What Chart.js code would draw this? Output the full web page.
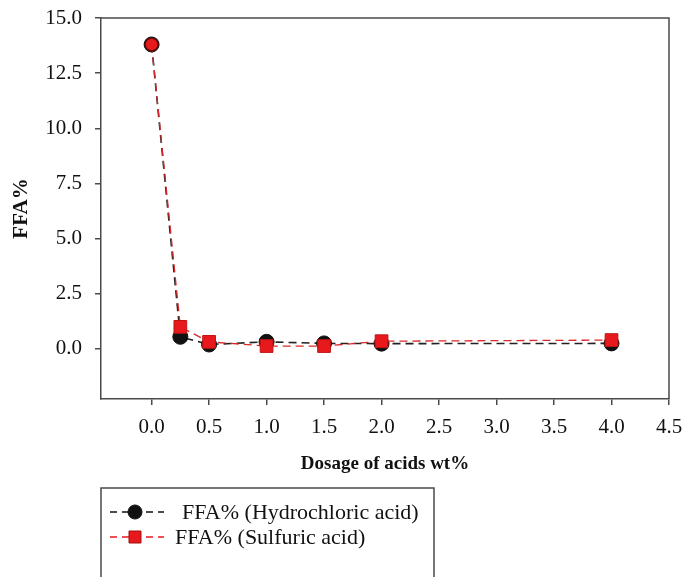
<!DOCTYPE html>
<html><head><meta charset="utf-8">
<script src="https://cdn.jsdelivr.net/npm/chart.js@4.4.0/dist/chart.umd.min.js"></script>
<style>html,body{margin:0;padding:0;background:#fff;} #wrap{width:685px;height:577px;position:relative;}</style>
</head><body><div id="wrap"><canvas id="c" width="685" height="577"></canvas></div>
<script>
const dosage = [0, 0.25, 0.5, 1.0, 1.5, 2.0, 4.0];
const hclFFA = [13.8, 0.55, 0.2, 0.32, 0.25, 0.24, 0.25];
const sulfuricFFA = [13.8, 1.0, 0.32, 0.13, 0.13, 0.35, 0.4];
const xTickValues = [0, 0.5, 1.0, 1.5, 2.0, 2.5, 3.0, 3.5, 4.0, 4.5];
const yTickValues = [0, 2.5, 5.0, 7.5, 10.0, 12.5, 15.0];
const seriesNames = ['FFA% (Hydrochloric acid)', 'FFA% (Sulfuric acid)'];
const xTitle = 'Dosage of acids wt%';
const yTitle = 'FFA%';

const SERIF = "'Liberation Serif', 'Times New Roman', serif";
const AXIS = '#4a4a4a';
const BLACK = '#111';
const RED = '#e8191c';
const RED_DARK = '#a01010';

const framePlugin = {
  id: 'frame',
  afterDraw(chart) {
    const {ctx, chartArea: a} = chart;
    ctx.save();
    ctx.strokeStyle = AXIS;
    ctx.lineWidth = 1.5;
    ctx.beginPath();
    ctx.moveTo(a.left, a.top);
    ctx.lineTo(a.right, a.top);
    ctx.lineTo(a.right, a.bottom);
    ctx.stroke();
    ctx.restore();
  }
};

const legendPlugin = {
  id: 'customLegend',
  afterDraw(chart) {
    const ctx = chart.ctx;
    ctx.save();
    ctx.strokeStyle = AXIS;
    ctx.lineWidth = 1.5;
    ctx.strokeRect(101, 488, 333, 140);
    const rows = [
      {y: 512, color: BLACK, fill: BLACK, border: BLACK, style: 'circle', r: 7, tx: 182},
      {y: 537, color: RED, fill: RED, border: RED_DARK, style: 'rect', r: 6, tx: 175}
    ];
    rows.forEach((row, i) => {
      ctx.setLineDash([7, 5]);
      ctx.strokeStyle = row.color;
      ctx.lineWidth = 1.5;
      ctx.beginPath();
      ctx.moveTo(110, row.y);
      ctx.lineTo(164, row.y);
      ctx.stroke();
      ctx.setLineDash([]);
      ctx.fillStyle = row.fill;
      ctx.strokeStyle = row.border;
      ctx.lineWidth = 1;
      ctx.beginPath();
      if (row.style === 'circle') { ctx.arc(135, row.y, row.r, 0, Math.PI * 2); }
      else { ctx.rect(135 - row.r, row.y - row.r, row.r * 2, row.r * 2); }
      ctx.fill();
      ctx.stroke();
      ctx.fillStyle = '#111';
      ctx.font = "22px " + SERIF;
      ctx.textBaseline = 'middle';
      ctx.textAlign = 'left';
      ctx.fillText(seriesNames[i], row.tx, row.y + 1);
    });
    ctx.restore();
  }
};

new Chart(document.getElementById('c'), {
  type: 'line',
  data: {
    datasets: [
      {
        label: seriesNames[0],
        data: dosage.map((x, i) => ({x, y: hclFFA[i]})),
        borderColor: '#222',
        borderWidth: 1.6,
        borderDash: [8, 5],
        pointStyle: 'circle',
        pointRadius: 7.5,
        pointBackgroundColor: BLACK,
        pointBorderColor: BLACK,
        pointBorderWidth: 1,
        order: 2,
        tension: 0
      },
      {
        label: seriesNames[1],
        data: dosage.map((x, i) => ({x, y: sulfuricFFA[i]})),
        borderColor: '#d8282a',
        borderWidth: 1.3,
        borderDash: [8, 5],
        pointStyle: ctx => ctx.dataIndex === 0 ? 'circle' : 'rect',
        pointRadius: ctx => ctx.dataIndex === 0 ? 6.5 : 9,
        pointBackgroundColor: RED,
        pointBorderColor: ctx => ctx.dataIndex === 0 ? '#5a0c0c' : '#c01515',
        pointBorderWidth: ctx => ctx.dataIndex === 0 ? 1.5 : 1,
        order: 1,
        tension: 0
      }
    ]
  },
  options: {
    responsive: false,
    animation: false,
    devicePixelRatio: 1,
    layout: {padding: {left: 0, top: 18, right: 16, bottom: 98}},
    plugins: {legend: {display: false}, tooltip: {enabled: false}},
    scales: {
      x: {
        type: 'linear',
        min: -0.44,
        max: 4.5,
        afterBuildTicks: s => { s.ticks = xTickValues.map(v => ({value: v})); },
        afterFit: s => { s.height = 80; s.paddingLeft = 0; s.paddingRight = 0; },
        ticks: {
          callback: v => Number(v).toFixed(1),
          font: {family: SERIF, size: 21},
          color: '#111',
          padding: 10,
          maxRotation: 0,
          autoSkip: false
        },
        grid: {display: true, drawOnChartArea: false, drawTicks: true, tickLength: 6, color: AXIS, lineWidth: 1.5},
        border: {display: true, color: AXIS, width: 1.5},
        title: {display: true, text: xTitle, font: {family: SERIF, size: 19, weight: 'bold'}, color: '#111', padding: {top: 0, bottom: 4}}
      },
      y: {
        type: 'linear',
        min: -2.27,
        max: 15,
        afterBuildTicks: s => { s.ticks = yTickValues.map(v => ({value: v})); },
        afterFit: s => { s.width = 101; s.paddingTop = 0; s.paddingBottom = 0; },
        ticks: {
          callback: v => Number(v).toFixed(1),
          font: {family: SERIF, size: 21},
          color: '#111',
          padding: 13,
          autoSkip: false
        },
        grid: {display: true, drawOnChartArea: false, drawTicks: true, tickLength: 6, color: AXIS, lineWidth: 1.5},
        border: {display: true, color: AXIS, width: 1.5},
        title: {display: true, text: yTitle, font: {family: SERIF, size: 21, weight: 'bold'}, color: '#111', padding: {top: 9, bottom: 0}}
      }
    }
  },
  plugins: [framePlugin, legendPlugin]
});
</script>
</body></html>
